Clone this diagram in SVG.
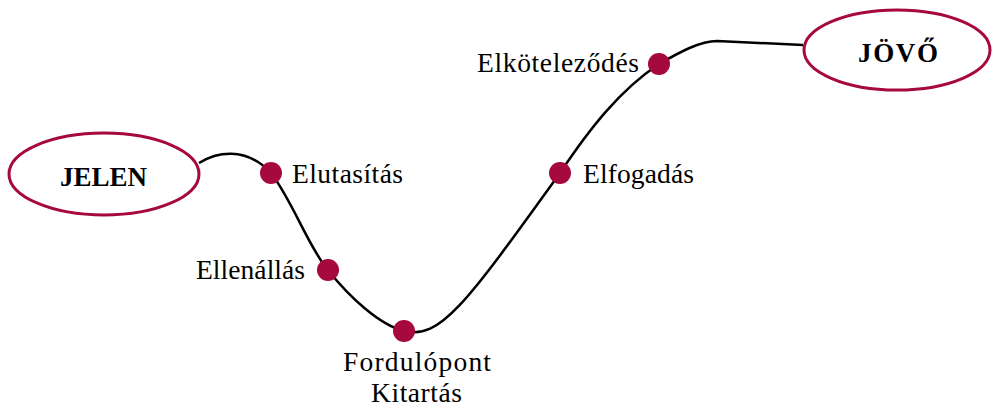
<svg xmlns="http://www.w3.org/2000/svg" width="995" height="409" viewBox="0 0 995 409">
  <style>
    .term { fill: #ffffff; stroke: #a6093d; stroke-width: 3; }
    .term-label { font-family: "Liberation Serif", "DejaVu Serif", serif; font-weight: bold; font-size: 27px; fill: #000000; }
    .stage { fill: #a6093d; }
    .stage-label { font-family: "Liberation Serif", "DejaVu Serif", serif; font-size: 27.5px; fill: #000000; }
    .path { fill: none; stroke: #000000; stroke-width: 2.5; }
  </style>

  <!-- journey curve -->
  <g id="connectors">
    <path class="path" d="M199,163 C215,153 245,145 271,173 C292,200 310,250 328,270 C350,298 380,325 404,331 C440,340 465,305 560,173 C590,128 620,90 659,64 C680,52 700,41 717,41 L803,45"/>
  </g>

  <g id="jelen">
    <ellipse class="term" cx="104" cy="174" rx="95" ry="41"/>
    <text class="term-label" x="60" y="186" textLength="87">JELEN</text>
  </g>

  <g id="jovo">
    <ellipse class="term" cx="897" cy="50" rx="93" ry="40"/>
    <text class="term-label" x="858" y="62" textLength="80">JÖVŐ</text>
  </g>

  <g id="elutasitas">
    <circle class="stage" cx="271" cy="173" r="11"/>
    <text class="stage-label" x="292" y="183" textLength="111">Elutasítás</text>
  </g>

  <g id="ellenallas">
    <circle class="stage" cx="328" cy="270" r="11"/>
    <text class="stage-label" x="196" y="279" textLength="109">Ellenállás</text>
  </g>

  <g id="fordulopont">
    <circle class="stage" cx="404" cy="331" r="11"/>
    <text class="stage-label" x="343" y="371" textLength="148">Fordulópont</text>
    <text class="stage-label" x="371" y="402" textLength="91">Kitartás</text>
  </g>

  <g id="elfogadas">
    <circle class="stage" cx="560" cy="173" r="11"/>
    <text class="stage-label" x="583" y="183" textLength="111">Elfogadás</text>
  </g>

  <g id="elkotelezodes">
    <circle class="stage" cx="659" cy="64" r="11"/>
    <text class="stage-label" x="477" y="72" textLength="162">Elköteleződés</text>
  </g>
</svg>
